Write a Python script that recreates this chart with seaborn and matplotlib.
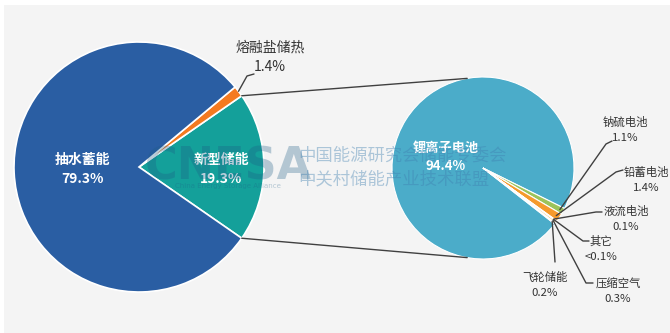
import numpy as np
import matplotlib
matplotlib.use("Agg")
import matplotlib.pyplot as plt
from matplotlib.patches import ConnectionPatch, Rectangle
import seaborn as sns

sns.set_theme(style="white")
plt.rcParams['font.family'] = ['Noto Sans CJK SC', 'DejaVu Sans']

# ---- data ----
main_labels = ["新型储能", "熔融盐储热", "抽水蓄能"]
main_values = [19.3, 1.4, 79.3]
main_texts = ["19.3%", "1.4%", "79.3%"]
main_colors = ["#14a09a", "#f47a20", "#2a5ea3"]

sub_labels = ["锂离子电池", "钠硫电池", "铅蓄电池", "液流电池", "其它", "压缩空气", "飞轮储能"]
sub_values = [94.4, 1.1, 1.4, 0.1, 0.05, 0.3, 0.2]
sub_texts = ["94.4%", "1.1%", "1.4%", "0.1%", "<0.1%", "0.3%", "0.2%"]
sub_colors = ["#4bacc9", "#9cc35a", "#f59a2c", "#ec8fa0", "#f8d98e", "#f6b744", "#3589d0"]

W, H = 670, 333
fig = plt.figure(figsize=(W / 100, H / 100), dpi=100)
fig.patch.set_facecolor("white")
fig.add_artist(Rectangle((4 / W, 0), 1, 1 - 5 / H, transform=fig.transFigure,
                         facecolor="#f4f4f4", edgecolor="none", zorder=-10))

def px_axes(cx, cy, r):
    return fig.add_axes([(cx - r) / W, (H - cy - r) / H, 2 * r / W, 2 * r / H])

ax1 = px_axes(139, 167, 125)
ax2 = px_axes(483, 168, 91)

start1 = -main_values[0] * 3.6 / 2
w1, _ = ax1.pie(main_values, colors=main_colors, startangle=start1, counterclock=True,
                radius=1, wedgeprops=dict(edgecolor="white", linewidth=1.2))

w2, _ = ax2.pie(sub_values, colors=sub_colors, startangle=-38, counterclock=False,
                radius=1, wedgeprops=dict(edgecolor="white", linewidth=0.8))

for ax in (ax1, ax2):
    ax.set_xlim(-1, 1)
    ax.set_ylim(-1, 1)
    ax.set_aspect("equal")
    ax.axis("off")

# main pie inner labels
ax1.text(-0.45, -0.02, f"{main_labels[2]}\n{main_texts[2]}", color="white", fontsize=10,
         fontweight="bold", ha="center", va="center", linespacing=1.5)
ax1.text(0.66, -0.02, f"{main_labels[0]}\n{main_texts[0]}", color="white", fontsize=10,
         fontweight="bold", ha="center", va="center", linespacing=1.5)

def mid_point(w, r=0.97):
    a = np.deg2rad((w.theta1 + w.theta2) / 2)
    return r * np.cos(a), r * np.sin(a)

def d1(px, py):
    return (px - 139) / 125, (167 - py) / 125

def d2(px, py):
    return (px - 483) / 91, (168 - py) / 91

lc = "#404040"
sx, sy = mid_point(w1[1], 1.0)
e1 = d1(247, 76)
e2 = d1(254, 74)
ax1.plot([sx, e1[0], e2[0]], [sy, e1[1], e2[1]], color=lc, lw=1, clip_on=False)
ax1.text(*d1(270, 57), f"{main_labels[1]}\n{main_texts[1]}", color="#333333", fontsize=10,
         ha="center", va="center", linespacing=1.5, clip_on=False)

# sub pie main label
ax2.text(*d2(446, 157), f"{sub_labels[0]}\n{sub_texts[0]}", color="white", fontsize=9.5,
         fontweight="bold", ha="center", va="center", linespacing=1.4)

# sub pie small labels: (label center, elbow, end)
sub_layout = {
    1: ((625, 130), (606, 144), (612, 141)),
    2: ((646, 180), (616, 172), (623, 170)),
    3: ((626, 219), (596, 212), (602, 212)),
    4: ((601, 249), (583, 241), (589, 241)),
    5: ((618, 291), (586, 283), (593, 283)),
    6: ((545, 285), (555, 262), (555, 262)),
}
for i, (lab, elb, end) in sub_layout.items():
    sx, sy = mid_point(w2[i], 0.96)
    a = d2(*elb)
    b = d2(*end)
    ax2.plot([sx, a[0], b[0]], [sy, a[1], b[1]], color=lc, lw=1, clip_on=False)
    ax2.text(*d2(*lab), f"{sub_labels[i]}\n{sub_texts[i]}", color="#333333", fontsize=8.2,
             ha="center", va="center", linespacing=1.6, clip_on=False)

# connecting lines between pies
t = np.deg2rad(w1[0].theta2)
b = np.deg2rad(w1[0].theta1)
for ang1, ang2 in ((t, np.deg2rad(100)), (b, np.deg2rad(-100))):
    con = ConnectionPatch(xyA=(np.cos(ang1), np.sin(ang1)), coordsA=ax1.transData,
                          xyB=(np.cos(ang2), np.sin(ang2)), coordsB=ax2.transData,
                          color=lc, lw=1)
    fig.add_artist(con)

# watermark
fig.text(228 / W, 1 - 167 / H, "CNESA", fontsize=32, fontweight="bold", color="#1d5c86",
         alpha=0.3, ha="center", va="center", family="DejaVu Sans", zorder=20)
fig.text(228 / W, 1 - 186 / H, "China Energy Storage Alliance", fontsize=5, color="#1d5c86",
         alpha=0.3, ha="center", va="center", family="DejaVu Sans", zorder=20)
fig.text(298 / W, 1 - 156 / H, "中国能源研究会储能专委会", fontsize=12.5, color="#3f7fb0",
         alpha=0.4, ha="left", va="center", zorder=20)
fig.text(298 / W, 1 - 179 / H, "中关村储能产业技术联盟", fontsize=12.5, color="#3f7fb0",
         alpha=0.4, ha="left", va="center", zorder=20)

fig.savefig("out.png", dpi=100, facecolor=fig.get_facecolor())
